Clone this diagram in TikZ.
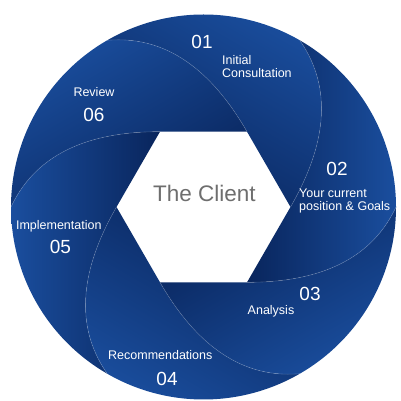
\documentclass[tikz,border=0pt]{standalone}
\usepackage{fontspec}
\setmainfont{Liberation Sans}
\usetikzlibrary{calc}
\definecolor{bladelight}{RGB}{26,78,158}
\definecolor{bladedark}{RGB}{9,37,92}
\definecolor{clientgray}{RGB}{110,110,110}
\begin{document}
\begin{tikzpicture}[x=1pt,y=1pt,
  blade/.style={left color=bladelight, right color=bladedark},
  edgeline/.style={draw=white, draw opacity=0.2, line width=0.6pt},
  numlabel/.style={text=white, font=\fontsize{19}{19}\selectfont, inner sep=0, anchor=base},
  txtlabel/.style={text=white, font=\fontsize{12.5}{12.5}\selectfont, inner sep=0, anchor=base},
  leftlabel/.style={txtlabel, anchor=base west},
  clientlabel/.style={text=clientgray, font=\fontsize{22.5}{22.5}\selectfont, inner sep=0, anchor=base}
]
\useasboundingbox (0,0) rectangle (400,401);
\fill[white] (0,0) rectangle (400,401);
\coordinate (O) at (203.5,194);
\def\R{192.5}
\foreach \i in {0,...,5}{
  \pgfmathsetmacro{\a}{60*\i}
  \coordinate (S\i) at ($(O)+(\a:87)$);
  \coordinate (A\i) at ($(O)+(\a:87)+(\a+60:60)$);
  \coordinate (B\i) at ($(O)+(\a+60:\R)+(\a-55:66)$);
  \coordinate (E\i) at ($(O)+(\a+60:\R)$);
}
\foreach \j in {0,...,5}{
  \pgfmathtruncatemacro{\k}{mod(\j+1,6)}
  \pgfmathsetmacro{\sa}{60*\j-30}
  \pgfmathsetmacro{\st}{60*\j+120}
  \pgfmathsetmacro{\en}{60*\j+60}
  \shade[blade, shading angle=\sa] (S\j) -- (S\k) .. controls (A\k) and (B\k) .. (E\k)
    arc[start angle=\st, end angle=\en, radius=\R] .. controls (B\j) and (A\j) .. (S\j) -- cycle;
}
\foreach \i in {0,...,5}{
  \draw[edgeline] (S\i) .. controls (A\i) and (B\i) .. (E\i);
}
\node[numlabel] (n1) at (202,352.7) {01};
\node[leftlabel] (t1a) at (222,336) {Initial};
\node[leftlabel] (t1b) at (222,323.5) {Consultation};
\node[numlabel] (n2) at (337,225) {02};
\node[leftlabel] (t2a) at (299,203) {Your current};
\node[leftlabel] (t2b) at (299,190.5) {position \& Goals};
\node[numlabel] (n3) at (310,100.3) {03};
\node[txtlabel] (t3) at (271,86) {Analysis};
\node[txtlabel] (t4) at (160.3,41) {Recommendations};
\node[numlabel] (n4) at (167,15) {04};
\node[txtlabel] (t5) at (58.8,171.7) {Implementation};
\node[numlabel] (n5) at (60.5,147) {05};
\node[txtlabel] (t6) at (94,304.3) {Review};
\node[numlabel] (n6) at (94,279.3) {06};
\node[clientlabel] (client) at (204.5,199) {The Client};
\end{tikzpicture}
\end{document}
